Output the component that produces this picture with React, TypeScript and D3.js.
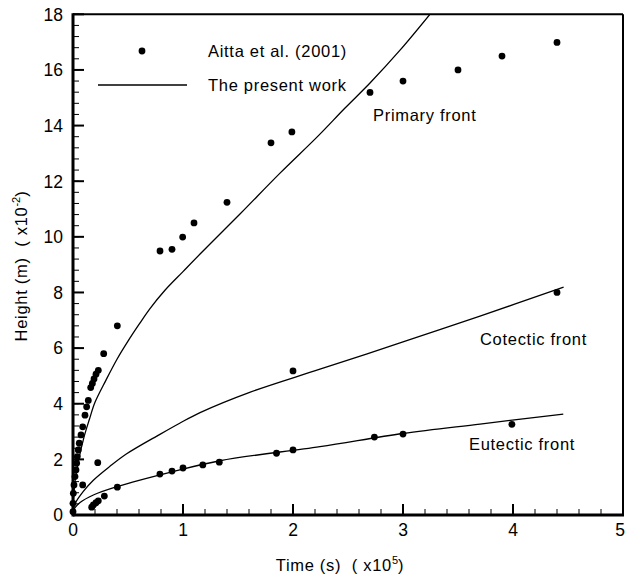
import React from "react";
import * as d3 from "d3";

// ---- Data (time in 1e5 s, height in 1e-2 m) ----
const xTicks = [0, 1, 2, 3, 4, 5];
const yTicks = [0, 2, 4, 6, 8, 10, 12, 14, 16, 18];

// Aitta et al. (2001) measured points
const aittaT = [
  0, 0, 0.003, 0.009, 0.018, 0.027, 0.033, 0.039, 0.048, 0.057, 0.073, 0.088, 0.109, 0.124, 0.139, 0.161, 0.176, 0.191, 0.209, 0.23, 0.279, 0.403,
  0.791, 0.9, 0.997, 1.1, 1.4, 1.8, 1.99, 2.7, 3.0, 3.5, 3.9, 4.4,
  0.088, 0.225, 2.0, 4.4,
  0.17, 0.185, 0.209, 0.23, 0.285, 0.403, 0.79, 0.9, 1.0, 1.18, 1.33, 1.85, 2.0, 2.74, 3.0, 3.99,
];
const aittaH = [
  0.12, 0.42, 0.78, 1.08, 1.38, 1.62, 1.86, 2.1, 2.34, 2.58, 2.88, 3.17, 3.59, 3.89, 4.12, 4.58, 4.73, 4.89, 5.06, 5.2, 5.8, 6.8,
  9.49, 9.55, 9.99, 10.5, 11.24, 13.38, 13.77, 15.19, 15.6, 16.0, 16.5, 16.99,
  1.08, 1.88, 5.18, 8.0,
  0.28, 0.36, 0.44, 0.51, 0.68, 1.0, 1.47, 1.58, 1.69, 1.8, 1.9, 2.22, 2.34, 2.8, 2.91, 3.26,
];

// The present work: primary front
const primaryT = [0, 0.005, 0.02, 0.05, 0.1, 0.15, 0.2, 0.3, 0.4, 0.5, 0.6, 0.7, 0.836, 1.0, 1.155, 1.518, 1.882, 2.227, 2.473, 2.7, 2.973, 3.245];
const primaryH = [0, 0.6, 1.25, 1.95, 2.8, 3.45, 4.05, 4.85, 5.6, 6.25, 6.85, 7.42, 8.08, 8.75, 9.38, 10.82, 12.29, 13.62, 14.63, 15.53, 16.71, 18.0];

// cotectic front
const cotecticT = [0, 0.005, 0.02, 0.094, 0.185, 0.336, 0.488, 0.79, 0.97, 1.155, 1.6, 2.245, 3.0, 3.7, 4.46];
const cotecticH = [0, 0.22, 0.42, 0.85, 1.25, 1.75, 2.2, 2.9, 3.3, 3.68, 4.4, 5.24, 6.22, 7.15, 8.19];

// eutectic front
const eutecticT = [0, 0.005, 0.02, 0.064, 0.185, 0.4, 0.9, 1.336, 2.245, 3.0, 3.7, 4.457];
const eutecticH = [0, 0.14, 0.27, 0.45, 0.72, 1.02, 1.55, 1.95, 2.46, 2.93, 3.27, 3.63];

const FONT = "'Liberation Sans', Arial, Helvetica, sans-serif";
const NB = "\u00a0";

export default function App() {
  const W = 626;
  const H = 579;
  const x = d3.scaleLinear().domain([0, 5]).range([73, 623]);
  const y = d3.scaleLinear().domain([0, 18]).range([515, 14.3]);

  const line = d3
    .line<[number, number]>()
    .x((d) => x(d[0]))
    .y((d) => y(d[1]))
    .curve(d3.curveCatmullRom.alpha(0.5));

  const zip = (a: number[], b: number[]) => a.map((v, i) => [v, b[i]] as [number, number]);

  const xMinor = d3.range(0, 5.0001, 0.2);
  const yMinor = d3.range(0, 18.0001, 0.4);

  const labelStyle = { fontSize: 16.5, letterSpacing: 0.7 };

  return (
    <svg
      width={W}
      height={H}
      style={{ position: "absolute", left: 0, top: 0, background: "#fff" }}
      fontFamily={FONT}
    >
      <rect x={0} y={0} width={W} height={H} fill="#fff" />
      <defs>
        <clipPath id="plot">
          <rect x={x(0)} y={y(18)} width={x(5) - x(0)} height={y(0) - y(18)} />
        </clipPath>
      </defs>

      {/* minor ticks */}
      {xMinor.map((v, i) => (
        <line key={"xm" + i} x1={x(v)} x2={x(v)} y1={y(0)} y2={y(0) - 6} stroke="#000" strokeWidth={1} />
      ))}
      {yMinor.map((v, i) => (
        <line key={"ym" + i} x1={x(0)} x2={x(0) + 6} y1={y(v)} y2={y(v)} stroke="#000" strokeWidth={1} />
      ))}
      {/* major ticks */}
      {xTicks.map((v) => (
        <line key={"xM" + v} x1={x(v)} x2={x(v)} y1={y(0)} y2={y(0) - 11} stroke="#000" strokeWidth={2} />
      ))}
      {yTicks.map((v) => (
        <line key={"yM" + v} x1={x(0)} x2={x(0) + 11} y1={y(v)} y2={y(v)} stroke="#000" strokeWidth={2} />
      ))}

      {/* frame */}
      <line x1={x(0)} x2={x(5)} y1={y(18)} y2={y(18)} stroke="#000" strokeWidth={2} />
      <line x1={x(5)} x2={x(5)} y1={y(18)} y2={y(0)} stroke="#000" strokeWidth={2} />
      <line x1={x(0)} x2={x(5) + 1} y1={y(0)} y2={y(0)} stroke="#000" strokeWidth={3} />
      <line x1={x(0)} x2={x(0)} y1={y(18) - 1} y2={y(0) + 1.5} stroke="#000" strokeWidth={3} />

      {/* tick labels */}
      {xTicks.map((v) => (
        <text key={"xl" + v} x={Math.min(x(v), 620)} y={536} textAnchor="middle" fontSize={17.5}>
          {v}
        </text>
      ))}
      {yTicks.map((v) => (
        <text key={"yl" + v} x={63} y={y(v) + 6.3} textAnchor="end" fontSize={17.5}>
          {v}
        </text>
      ))}

      {/* axis titles */}
      <text x={340} y={571} textAnchor="middle" {...labelStyle}>
        {`Time (s)${NB}${NB}(${NB}x10`}
        <tspan dy={-7} fontSize={11} letterSpacing={0}>5</tspan>
        <tspan dy={7}>)</tspan>
      </text>
      <text transform="translate(27,266) rotate(-90)" textAnchor="middle" {...labelStyle}>
        {`Height (m)${NB}${NB}(${NB}x10`}
        <tspan dy={-7} fontSize={11} letterSpacing={0}>-2</tspan>
        <tspan dy={7}>)</tspan>
      </text>

      {/* curves */}
      <g clipPath="url(#plot)" fill="none" stroke="#000" strokeWidth={1.3}>
        <path d={line(zip(primaryT, primaryH)) || ""} />
        <path d={line(zip(cotecticT, cotecticH)) || ""} />
        <path d={line(zip(eutecticT, eutecticH)) || ""} />
      </g>

      {/* points */}
      <g fill="#000">
        {aittaT.map((t, i) => (
          <circle key={"p" + i} cx={x(t)} cy={y(aittaH[i])} r={3.4} />
        ))}
      </g>

      {/* legend */}
      <circle cx={142} cy={51} r={3.4} fill="#000" />
      <text x={208} y={57} {...labelStyle}>Aitta et al. (2001)</text>
      <line x1={98} x2={187} y1={85} y2={85} stroke="#000" strokeWidth={1.3} />
      <text x={208} y={91} {...labelStyle}>The present work</text>

      {/* annotations */}
      <text x={373} y={121} {...labelStyle}>Primary front</text>
      <text x={480} y={345} {...labelStyle}>Cotectic front</text>
      <text x={469} y={450} {...labelStyle}>Eutectic front</text>
    </svg>
  );
}
